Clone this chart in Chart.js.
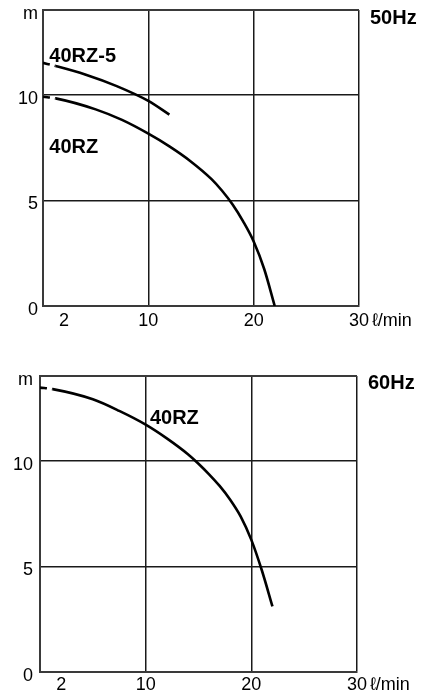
<!DOCTYPE html>
<html>
<head>
<meta charset="utf-8">
<script src="https://cdn.jsdelivr.net/npm/chart.js"></script>
<style>
  body { margin: 0; background: #fff; width: 430px; height: 697px; position: relative; overflow: hidden; }
  .box { position: absolute; left: 0; width: 430px; }
  #box50 { top: 0; height: 348px; }
  #box60 { top: 348px; height: 349px; }
</style>
</head>
<body>
<div class="box" id="box50"><canvas id="chart50"></canvas></div>
<div class="box" id="box60"><canvas id="chart60"></canvas></div>
<script>
// --- DATA ---
const xTicks = [0, 2, 10, 20, 30];
const xTickLabels = ['', '2', '10', '20', '30'];
const yTicks = [0, 5, 10, 14];
const yTickLabels = ['0', '5', '10', 'm'];
const xUnit = 'ℓ/min';

// 50Hz
const flow50Rz5 = [0, 1.2, 4, 7, 10, 12];
const head50Rz5 = [11.5, 11.35, 10.95, 10.4, 9.7, 9.05];
const flow50Rz = [0, 1.2, 5, 7.5, 10, 12, 14, 16, 17, 18, 19, 20, 21, 22];
const head50Rz = [9.9, 9.82, 9.3, 8.8, 8.15, 7.55, 6.85, 6.0, 5.45, 4.8, 4.0, 3.05, 1.75, 0];

// 60Hz
const flow60Rz = [0, 1.2, 5, 7.5, 10, 12, 14, 15, 16, 17, 18, 19, 20, 21, 22];
const head60Rz = [13.45, 13.38, 12.9, 12.35, 11.7, 11.05, 10.3, 9.85, 9.35, 8.8, 8.15, 7.35, 6.25, 4.8, 3.1];

const FONT = '"Liberation Sans", Arial, sans-serif';

const toPoints = (xs, ys) => xs.map((x, i) => ({ x: x, y: ys[i] }));

const curve = (xs, ys) => ({
  data: toPoints(xs, ys),
  borderColor: '#000',
  borderWidth: 2.6,
  pointRadius: 0,
  cubicInterpolationMode: 'monotone',
  segment: {
    // first short piece is drawn dashed
    borderDash: ctx => ctx.p0DataIndex === 0 ? [7, 5] : undefined
  }
});

// draws curve names, frequency tag and the flow unit
const textPlugin = {
  id: 'texts',
  afterDraw(chart, args, opts) {
    const { ctx, chartArea, scales } = chart;
    ctx.save();
    ctx.fillStyle = '#000';
    ctx.textBaseline = 'middle';
    ctx.textAlign = 'left';
    ctx.font = 'bold 20px ' + FONT;
    opts.names.forEach(n => {
      ctx.fillText(n.text, scales.x.getPixelForValue(n.x), scales.y.getPixelForValue(n.y));
    });
    ctx.fillText(opts.freq, chartArea.right + opts.freqDx, chartArea.top + opts.freqDy);
    ctx.font = '18px ' + FONT;
    const x30 = scales.x.getPixelForValue(30);
    ctx.fillText(xUnit, x30 + 13, chartArea.bottom + opts.unitDy);
    ctx.restore();
  }
};

function makeChart(id, datasets, o) {
  return new Chart(document.getElementById(id), {
    type: 'line',
    data: { datasets: datasets },
    plugins: [textPlugin],
    options: {
      responsive: true,
      maintainAspectRatio: false,
      animation: false,
      layout: { padding: { top: o.padTop, right: o.padRight, bottom: 0, left: 0 } },
      plugins: {
        legend: { display: false },
        tooltip: { enabled: false },
        texts: { names: o.names, freq: o.freq, freqDx: 11, freqDy: o.freqDy, unitDy: o.unitDy }
      },
      scales: {
        x: {
          type: 'linear', min: 0, max: 30,
          afterBuildTicks: a => { a.ticks = xTicks.map(v => ({ value: v })); },
          afterFit: a => { a.height = o.xHeight; },
          ticks: {
            autoSkip: false, maxRotation: 0, padding: o.xPad, color: '#000',
            font: { family: FONT, size: 18 },
            callback: (v) => xTickLabels[xTicks.indexOf(v)]
          },
          grid: {
            drawTicks: false,
            lineWidth: 1.5,
            color: c => (c.tick && c.tick.value >= 10) ? '#1a1a1a' : 'rgba(0,0,0,0)'
          },
          border: { color: '#3a3a3a', width: 2 }
        },
        y: {
          type: 'linear', min: 0, max: 14,
          afterBuildTicks: a => { a.ticks = yTicks.map(v => ({ value: v })); },
          afterFit: a => { a.width = o.yWidth; a.paddingTop = 0; a.paddingBottom = 0; },
          ticks: {
            padding: o.yPad, color: '#000', labelOffset: 4,
            font: { family: FONT, size: 18 },
            callback: (v) => yTickLabels[yTicks.indexOf(v)]
          },
          grid: {
            drawTicks: false,
            lineWidth: c => (c.tick && c.tick.value === 14) ? 2 : 1.5,
            color: c => (c.tick && c.tick.value === 14) ? '#3a3a3a' : (c.tick && c.tick.value > 0 ? '#1a1a1a' : 'rgba(0,0,0,0)')
          },
          border: { color: '#3a3a3a', width: 2 }
        }
      }
    }
  });
}

makeChart('chart50', [curve(flow50Rz5, head50Rz5), curve(flow50Rz, head50Rz)], {
  padTop: 10, padRight: 71, xHeight: 42, yWidth: 43, xPad: 4, yPad: 5,
  freq: '50Hz', freqDy: 8, unitDy: 15,
  names: [
    { text: '40RZ-5', x: 0.6, y: 11.8 },
    { text: '40RZ', x: 0.6, y: 7.5 }
  ]
});

makeChart('chart60', [curve(flow60Rz, head60Rz)], {
  padTop: 28, padRight: 73, xHeight: 25, yWidth: 40, xPad: 2, yPad: 7,
  freq: '60Hz', freqDy: 7, unitDy: 13,
  names: [
    { text: '40RZ', x: 10.4, y: 12.0 }
  ]
});
</script>
</body>
</html>
